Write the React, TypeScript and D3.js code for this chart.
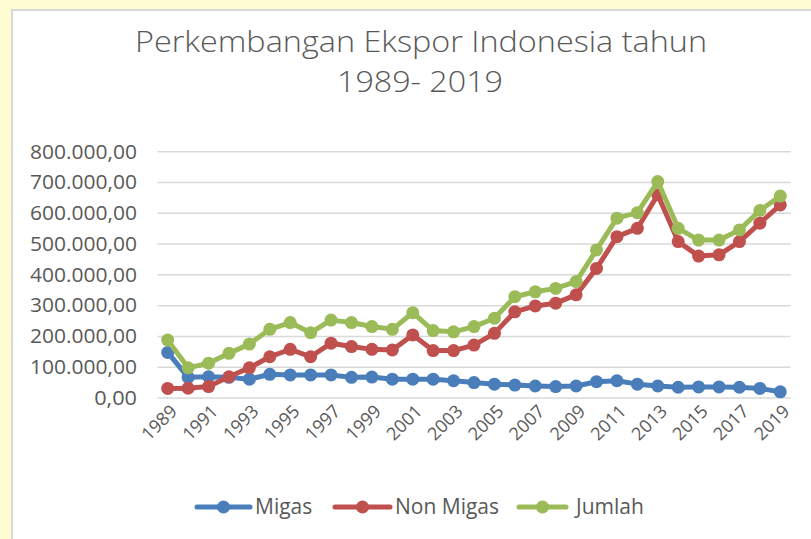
import React from "react";
import * as d3 from "d3";

const years = d3.range(1989, 2020).map(String);
const tickYears = years.filter((_, i) => i % 2 === 0);
const yTicks = [0, 100000, 200000, 300000, 400000, 500000, 600000, 700000, 800000];

const migas = [148, 67, 69, 67, 61, 77, 75, 75, 75, 67, 68, 61, 61, 61, 56, 50, 45, 42, 39, 37, 39, 53, 56, 45, 39, 35, 36, 36, 35, 31, 20].map(v => v * 1000);
const nonMigas = [31, 32, 37, 69, 98, 134, 158, 134, 178, 167, 158, 156, 205, 154, 154, 172, 210, 280, 299, 308, 335, 421, 524, 551, 660, 508, 461, 465, 508, 568, 627].map(v => v * 1000);
const jumlah = [188, 98, 113, 145, 175, 223, 245, 212, 253, 245, 232, 223, 277, 219, 215, 232, 259, 329, 345, 356, 378, 481, 584, 602, 703, 551, 513, 513, 546, 609, 656].map(v => v * 1000);

const seriesNames = ["Migas", "Non Migas", "Jumlah"];
const seriesColors = ["#4a7ebb", "#c0504d", "#9bbb59"];
const seriesData = [migas, nonMigas, jumlah];

const W = 811, H = 539;
const plotLeft = 157.5, plotRight = 790.5, plotTop = 151.7, plotBottom = 398;

const fmt = (v: number) => {
  const s = d3.format(",")(v).replace(/,/g, ".");
  return s + ",00";
};

export default function App() {
  const x = d3.scalePoint<string>().domain(years).range([plotLeft, plotRight]).padding(0.5);
  const y = d3.scaleLinear().domain([0, 800000]).range([plotBottom, plotTop]);
  const line = d3.line<number>().x((_, i) => x(years[i]) as number).y(d => y(d));
  const font = "Open Sans, Noto Sans, sans-serif";
  const legendItems = [
    { x1: 197, x2: 250, tx: 255 },
    { x1: 335, x2: 390, tx: 395 },
    { x1: 519, x2: 566, tx: 576 },
  ];
  return (
    <svg width={W} height={H} style={{ position: "absolute", left: 0, top: 0 }} fontFamily={font}>
      <rect x={0} y={0} width={W} height={H} fill="#fffbd3" />
      <rect x={12} y={10} width={W} height={H} fill="#ffffff" stroke="#d9d9d9" strokeWidth={2} />
      <text x={421} y={52} textAnchor="middle" fontSize={29} fill="#595959" fontWeight={300} textLength={572} lengthAdjust="spacingAndGlyphs">Perkembangan Ekspor Indonesia tahun</text>
      <text x={420} y={92} textAnchor="middle" fontSize={29} fill="#595959" fontWeight={300} textLength={166} lengthAdjust="spacingAndGlyphs">1989- 2019</text>
      {yTicks.map(t => (
        <g key={t}>
          <line x1={plotLeft} x2={plotRight} y1={y(t)} y2={y(t)} stroke="#d9d9d9" strokeWidth={1.5} />
          <text x={137} y={y(t)} dy="0.35em" textAnchor="end" fontSize={19.5} fill="#595959" textLength={fmt(t).length * 10.7} lengthAdjust="spacingAndGlyphs">{fmt(t)}</text>
        </g>
      ))}
      {tickYears.map(yr => (
        <text key={yr} transform={`translate(${(x(yr) as number) + 6},${plotBottom + 10}) rotate(-45)`} textAnchor="end" dy="0.35em" fontSize={18} fill="#595959">{yr}</text>
      ))}
      {seriesData.map((data, si) => (
        <g key={si}>
          <path d={line(data) as string} fill="none" stroke={seriesColors[si]} strokeWidth={5} strokeLinejoin="round" />
          {data.map((v, i) => (
            <circle key={i} cx={x(years[i]) as number} cy={y(v)} r={6.5} fill={seriesColors[si]} />
          ))}
        </g>
      ))}
      {legendItems.map((li, i) => (
        <g key={i}>
          <line x1={li.x1} x2={li.x2} y1={507} y2={507} stroke={seriesColors[i]} strokeWidth={5} strokeLinecap="round" />
          <circle cx={(li.x1 + li.x2) / 2} cy={507} r={6.5} fill={seriesColors[i]} />
          <text x={li.tx} y={507} dy="0.35em" fontSize={21} fill="#595959">{seriesNames[i]}</text>
        </g>
      ))}
    </svg>
  );
}
